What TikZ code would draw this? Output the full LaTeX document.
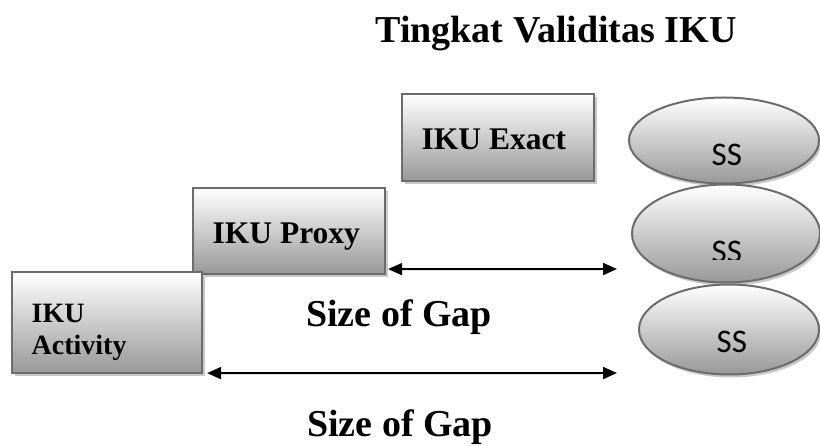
\documentclass[tikz,border=0pt]{standalone}
\usepackage{fontspec}
\setmainfont{Liberation Serif}
\newfontfamily\ssfont{Carlito}
\usetikzlibrary{shapes.geometric,shadows,arrows.meta}

\definecolor{edgegray}{RGB}{108,108,108}
\definecolor{shadegray}{RGB}{152,152,152}
\definecolor{shadowgray}{RGB}{200,200,200}

\tikzset{
  levelbox/.style={rectangle, draw=edgegray, line width=2.2pt,
    top color=white, bottom color=shadegray, inner sep=0pt,
    general shadow={fill=shadowgray, shadow xshift=3pt, shadow yshift=-3pt}},
  ssell/.style={ellipse, draw=edgegray, line width=2pt,
    top color=white, bottom color=shadegray, inner sep=0pt,
    general shadow={fill=shadowgray, shadow xshift=2pt, shadow yshift=-3pt}},
  gap/.style={{Triangle[length=14pt,width=12pt]}-{Triangle[length=14pt,width=12pt]},
    line width=2pt},
  headtext/.style={font=\bfseries\fontsize{38}{44}\selectfont, inner sep=0pt},
  boxtext/.style={font=\bfseries\fontsize{31.5}{36}\selectfont, inner sep=0pt},
  sstext/.style={font=\ssfont\fontsize{33}{38}\selectfont, inner sep=0pt},
}

\begin{document}
\begin{tikzpicture}[x=1pt, y=-1pt]
  \useasboundingbox (0,0) rectangle (820,446);

  % title
  \node[headtext, anchor=base] (title) at (556,43) {Tingkat Validitas IKU};

  % three validity levels
  \node[levelbox, minimum width=192pt, minimum height=87pt] (exact) at (498,137.5) {};
  \node[levelbox, minimum width=192pt, minimum height=86pt] (proxy) at (289,231) {};
  \node[levelbox, minimum width=190pt, minimum height=101pt] (activity) at (107,322.5) {};

  \node[boxtext, anchor=base west] (exactT) at (421.5,150) {IKU Exact};
  \node[boxtext, anchor=base west] (proxyT) at (212.5,244) {IKU Proxy};
  \node[font=\bfseries\fontsize{28}{32}\selectfont, inner sep=0pt, align=left,
        anchor=north west] (activityT) at (31.5,304) {IKU\\Activity};

  % stakeholder ellipses
  \node[ssell, minimum width=190pt, minimum height=86pt] (e1) at (724,140.5) {};
  \node[ssell, minimum width=188pt, minimum height=98pt] (e2) at (726,233.5) {};
  \node[ssell, minimum width=180pt, minimum height=90pt] (e3) at (729,329.5) {};

  \node[sstext, anchor=base west] (ss1) at (711.5,166) {SS};
  \begin{scope}
    \clip (640,200) rectangle (800,260);
    \node[sstext, anchor=base west] (ss2) at (711.5,263) {SS};
  \end{scope}
  \node[sstext, anchor=base west] (ss3) at (716.5,353) {SS};

  % gap arrows
  \coordinate (g1r) at (617,269);
  \coordinate (g2r) at (617,373);
  \draw[gap] ([xshift=2pt,yshift=6pt]proxy.south east) -- (g1r);
  \draw[gap] ([xshift=4pt,yshift=1pt]activity.south east) -- (g2r);

  \node[headtext, anchor=base west] (gap1) at (306,327) {Size of Gap};
  \node[headtext, anchor=base west] (gap2) at (307,437) {Size of Gap};
\end{tikzpicture}
\end{document}
